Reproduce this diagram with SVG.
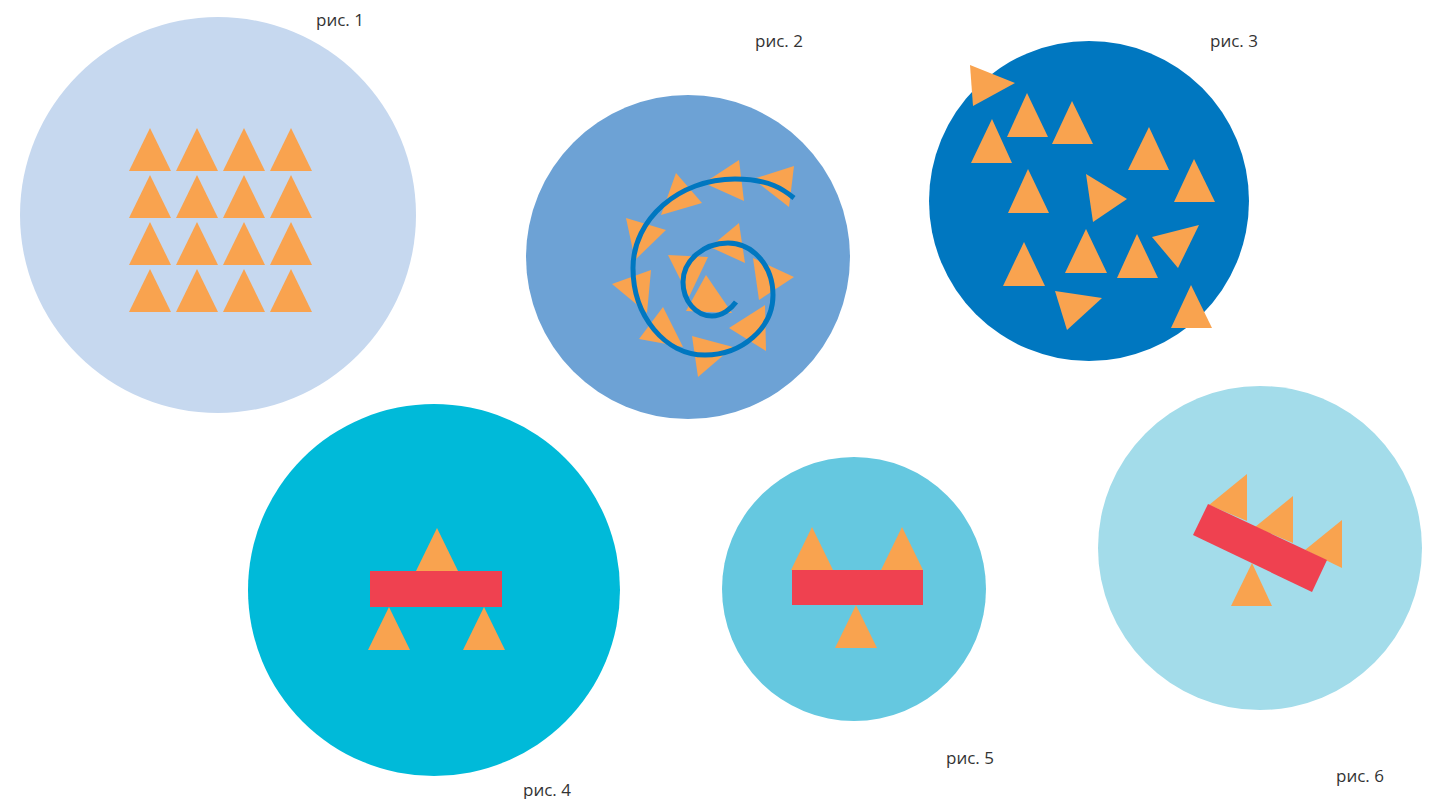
<svg xmlns="http://www.w3.org/2000/svg" width="1439" height="799" viewBox="0 0 1439 799">
<defs>
<style>
.o{fill:#F9A34F}
.r{fill:#EF4150}
.lbl{font-family:"Open Sans","Liberation Sans",sans-serif;font-size:17px;fill:#333}
</style>
<polygon id="t" points="0,0 -21,43 21,43"/>
</defs>
<rect width="1439" height="799" fill="#fff"/>
<g id="fig1">
<circle cx="218" cy="215" r="198" fill="#C6D8EF"/>
<g class="o">
<use href="#t" x="150" y="128"/><use href="#t" x="197" y="128"/><use href="#t" x="244" y="128"/><use href="#t" x="291" y="128"/>
<use href="#t" x="150" y="175"/><use href="#t" x="197" y="175"/><use href="#t" x="244" y="175"/><use href="#t" x="291" y="175"/>
<use href="#t" x="150" y="222"/><use href="#t" x="197" y="222"/><use href="#t" x="244" y="222"/><use href="#t" x="291" y="222"/>
<use href="#t" x="150" y="269"/><use href="#t" x="197" y="269"/><use href="#t" x="244" y="269"/><use href="#t" x="291" y="269"/>
</g>
<text class="lbl" x="316" y="26">рис. 1</text>
</g>
<g id="fig2">
<circle cx="688" cy="257" r="162" fill="#6DA2D5"/>
<g class="o">
<polygon points="676,173 702,203 661,215"/>
<polygon points="739,160 744,201 704,183"/>
<polygon points="794,166 789,207 753,179"/>
<polygon points="626,218 666,230 635,260"/>
<polygon points="612,284 651,270 647,313"/>
<polygon points="668,255 708,257 689,297"/>
<polygon points="706,275 686,311 732,313"/>
<polygon points="739,223 745,263 710,247"/>
<polygon points="753,258 794,277 759,300"/>
<polygon points="765,305 766,351 729,328"/>
<polygon points="663,307 683,347 639,339"/>
<polygon points="692,336 733,347 698,377"/>
</g>
<path d="M794,198 C784,190 770,179 735,179 C679,179 633,219 633,268 C633,316 665,355 705,355 C742,355 773,328 773,295 C773,266 753,243 728,243 C703,243 683,261 683,282 C683,301 696,316 712,316 C722,316 731,309 736,302" fill="none" stroke="#0077C0" stroke-width="5"/>
<text class="lbl" x="755" y="47">рис. 2</text>
</g>
<g id="fig3">
<circle cx="1089" cy="201" r="160" fill="#0077C0"/>
<g class="o">
<polygon points="970,65 1015,83 973,106"/>
<polygon points="1027,93 1007,137 1048,137"/>
<polygon points="1072,101 1052,144 1093,144"/>
<polygon points="992,119 971,163 1012,163"/>
<polygon points="1149,127 1128,170 1169,170"/>
<polygon points="1194,159 1174,202 1215,202"/>
<polygon points="1028,169 1008,213 1049,213"/>
<polygon points="1086,174 1127,199 1093,222"/>
<polygon points="1086,229 1065,273 1107,273"/>
<polygon points="1137,234 1117,278 1158,278"/>
<polygon points="1152,237 1199,225 1178,268"/>
<polygon points="1024,242 1003,286 1045,286"/>
<polygon points="1055,291 1102,298 1067,330"/>
<polygon points="1191,285 1171,328 1212,328"/>
</g>
<text class="lbl" x="1210" y="47">рис. 3</text>
</g>
<g id="fig4">
<circle cx="434" cy="590" r="186" fill="#00BAD9"/>
<g class="o">
<use href="#t" x="437" y="528"/>
<use href="#t" x="389" y="607"/>
<use href="#t" x="484" y="607"/>
</g>
<rect class="r" x="370" y="571" width="132" height="36"/>
<text class="lbl" x="523" y="796">рис. 4</text>
</g>
<g id="fig5">
<circle cx="854" cy="589" r="132" fill="#65C8E0"/>
<g class="o">
<use href="#t" x="812" y="527"/>
<use href="#t" x="902" y="527"/>
<use href="#t" x="856" y="605"/>
</g>
<rect class="r" x="792" y="570" width="131" height="35"/>
<text class="lbl" x="946" y="764">рис. 5</text>
</g>
<g id="fig6">
<circle cx="1260" cy="548" r="162" fill="#A3DCEA"/>
<g class="o">
<polygon points="1247,474 1247,521 1209,505"/>
<polygon points="1293,496 1293,543 1255,527"/>
<polygon points="1342,520 1342,568 1305,550"/>
<polygon points="1252,563 1231,606 1272,606"/>
</g>
<polygon class="r" points="1208,504 1327,560 1312,592 1193,535"/>
<text class="lbl" x="1336" y="782">рис. 6</text>
</g>
</svg>
